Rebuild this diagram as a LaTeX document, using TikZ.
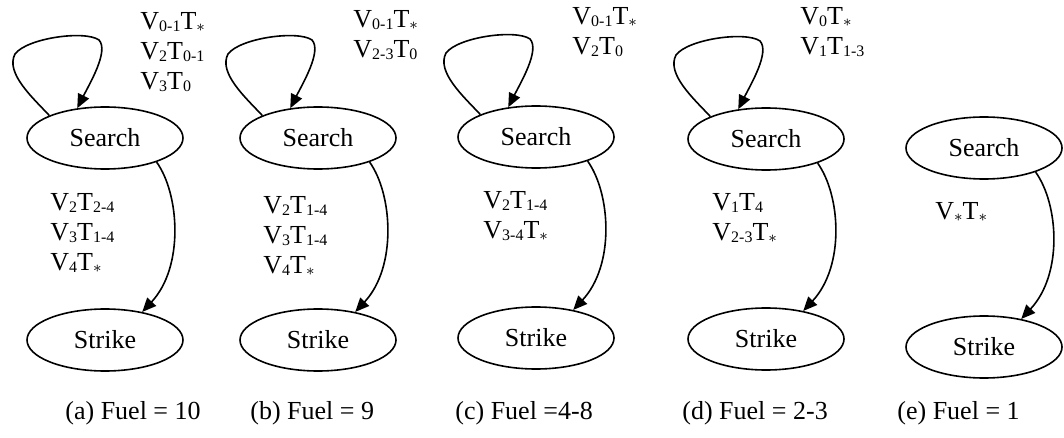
\documentclass[tikz,border=0pt]{standalone}
\usepackage{fontspec}
\setmainfont{Liberation Serif}
\usetikzlibrary{shapes.geometric, arrows.meta, calc}
\newcommand{\sbs}[1]{\raisebox{-0.2ex}{\fontsize{8}{9}\selectfont #1}}
\newcommand{\anystar}{\sbs{$\ast$}}

\begin{document}
\begin{tikzpicture}[x=0.5pt, y=-0.5pt,
    state/.style={ellipse, draw, line width=0.8pt, minimum width=78pt, minimum height=31pt, inner sep=0pt, font=\fontsize{13}{15}\selectfont},
    trans/.style={line width=0.8pt, -{Triangle[length=7pt,width=6pt]}},
    lbl/.style={anchor=west, align=left, inner sep=0pt, font=\fontsize{13}{15}\selectfont}]
    \useasboundingbox (0,0) rectangle (1064,438);
    % states and Search -> Strike
    \foreach \p/\x/\y/\z in {a/105/138/340, b/318/138/340, c/536/137/338, d/766/139/339, e/984/148/347} {
        \node[state] (s\p) at (\x,\y) {Search};
        \node[state] (k\p) at (\x,\z) {Strike};
        \draw[trans] (s\p.-25) .. controls +(23,32) and +(42,-45) .. (k\p.37);
    }
    % self loops
    \foreach \p in {a,b,c,d} {
        \draw[trans] (s\p.158) .. controls ($(s\p)+(-72,-40)$) and ($(s\p)+(-100,-65)$) .. ($(s\p)+(-90,-84)$)
            .. controls ($(s\p)+(-78,-100)$) and ($(s\p)+(-20,-108)$) .. ($(s\p)+(-6,-98)$)
            .. controls ($(s\p)+(4,-87)$) and ($(s\p)+(-15,-55)$) .. (s\p.133);
    }
    % (a)
    \node[lbl] (ta) at (140,52) {V\sbs{0-1}T\anystar\\V\sbs{2}T\sbs{0-1}\\V\sbs{3}T\sbs{0}};
    \node[lbl] (ba) at (50,233) {V\sbs{2}T\sbs{2-4}\\V\sbs{3}T\sbs{1-4}\\V\sbs{4}T\anystar};
    \node[lbl] (fa) at (65,413) {(a) Fuel = 10};
    % (b)
    \node[lbl] (tb) at (353,35) {V\sbs{0-1}T\anystar\\V\sbs{2-3}T\sbs{0}};
    \node[lbl] (bb) at (263,236) {V\sbs{2}T\sbs{1-4}\\V\sbs{3}T\sbs{1-4}\\V\sbs{4}T\anystar};
    \node[lbl] (fb) at (250,413) {(b) Fuel = 9};
    % (c)
    \node[lbl] (tc) at (572,32) {V\sbs{0-1}T\anystar\\V\sbs{2}T\sbs{0}};
    \node[lbl] (bc) at (483,216) {V\sbs{2}T\sbs{1-4}\\V\sbs{3-4}T\anystar};
    \node[lbl] (fc) at (455,413) {(c) Fuel =4-8};
    % (d)
    \node[lbl] (td) at (800,32) {V\sbs{0}T\anystar\\V\sbs{1}T\sbs{1-3}};
    \node[lbl] (bd) at (712,218) {V\sbs{1}T\sbs{4}\\V\sbs{2-3}T\anystar};
    \node[lbl] (fd) at (682,413) {(d) Fuel = 2-3};
    % (e)
    \node[lbl] (be) at (935,212) {V\anystar T\anystar};
    \node[lbl] (fe) at (897,413) {(e) Fuel = 1};
\end{tikzpicture}
\end{document}
